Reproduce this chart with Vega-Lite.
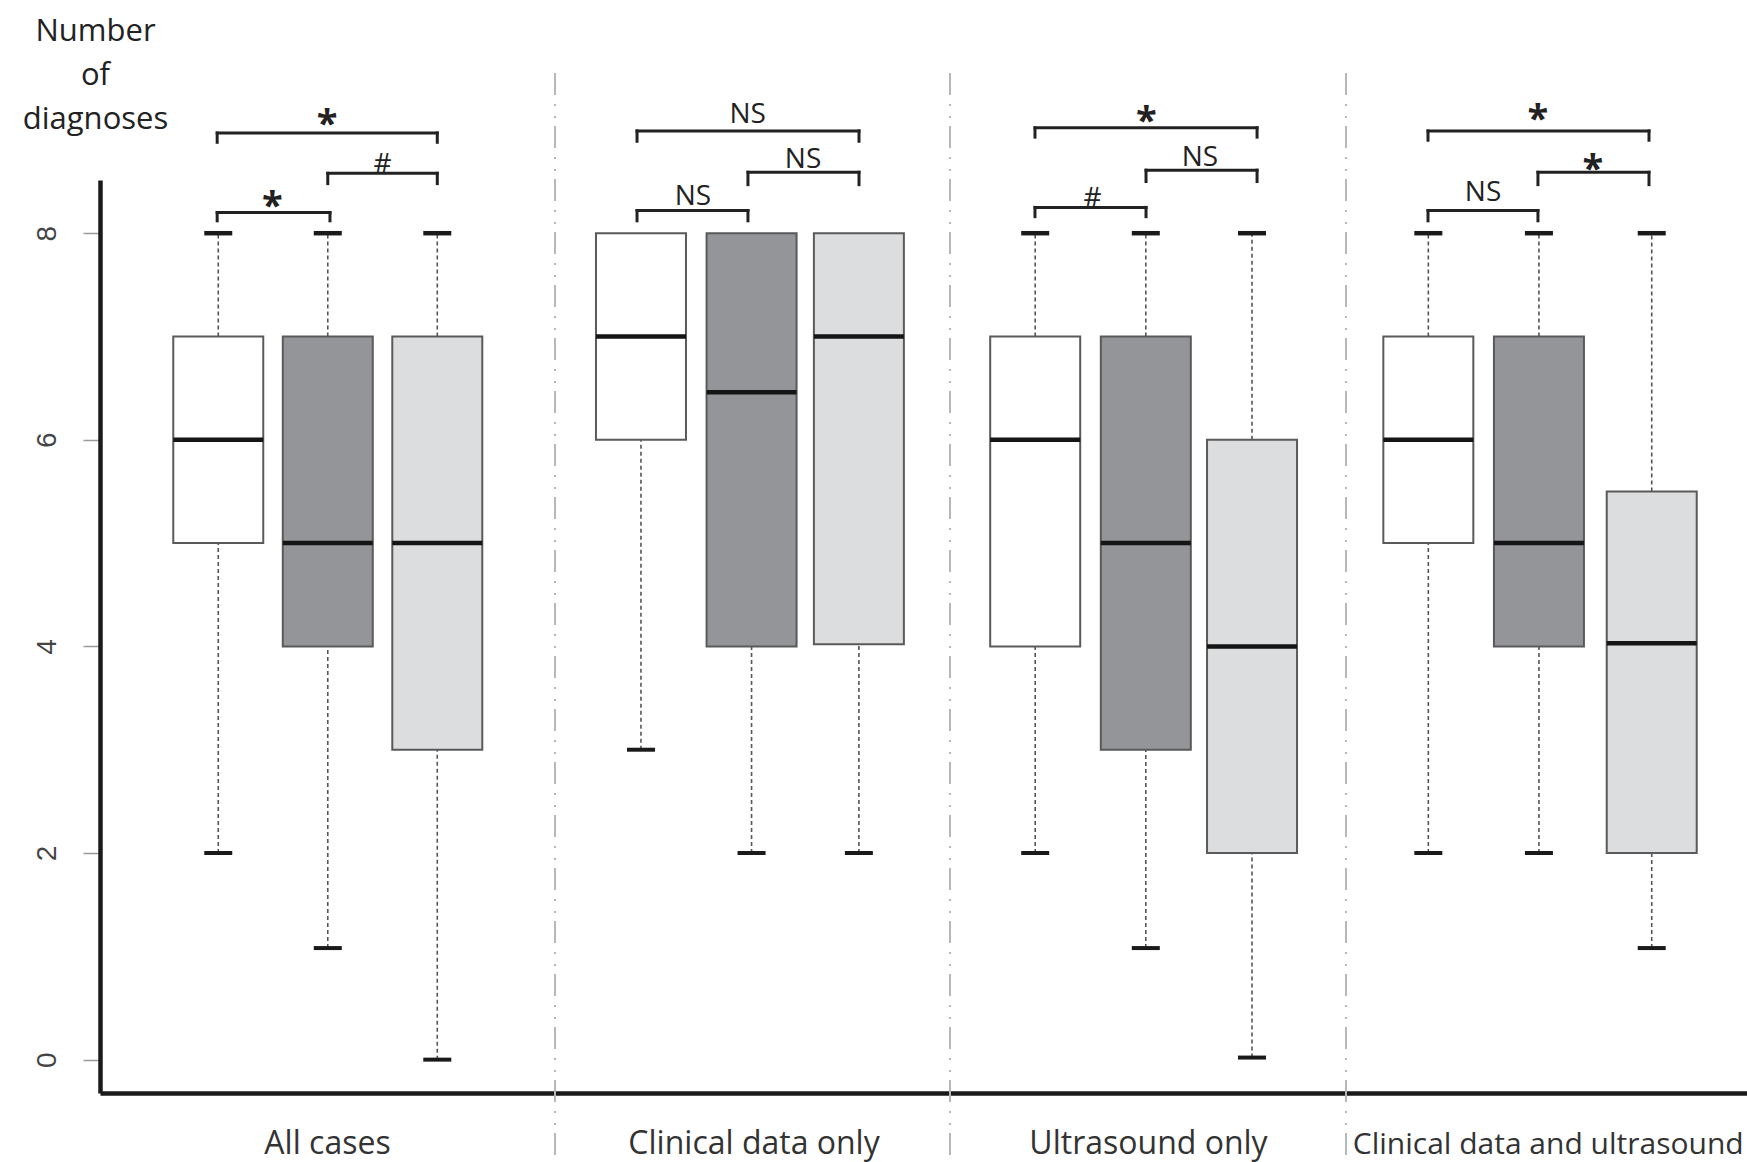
{
  "$schema": "https://vega.github.io/schema/vega-lite/v6.json",
  "autosize": {"type": "none"},
  "padding": {"left": 100, "top": 180, "right": 0, "bottom": 69},
  "width": 1647,
  "height": 913,
  "background": "#ffffff",
  "config": {"view": {"stroke": null}},
  "datasets": {
    "boxes": [
      {"grp": "All cases", "method": "M1", "pos": 1.0, "lo": 2, "q1": 5, "med": 6, "q3": 7, "hi": 8},
      {"grp": "All cases", "method": "M2", "pos": 2.0, "lo": 1.08, "q1": 4, "med": 5, "q3": 7, "hi": 8},
      {"grp": "All cases", "method": "M3", "pos": 3.0, "lo": 0, "q1": 3, "med": 5, "q3": 7, "hi": 8},
      {"grp": "Clinical data only", "method": "M1", "pos": 4.86, "lo": 3, "q1": 6, "med": 7, "q3": 8, "hi": 8},
      {"grp": "Clinical data only", "method": "M2", "pos": 5.87, "lo": 2, "q1": 4, "med": 6.46, "q3": 8, "hi": 8},
      {"grp": "Clinical data only", "method": "M3", "pos": 6.85, "lo": 2, "q1": 4.02, "med": 7, "q3": 8, "hi": 8},
      {"grp": "Ultrasound only", "method": "M1", "pos": 8.46, "lo": 2, "q1": 4, "med": 6, "q3": 7, "hi": 8},
      {"grp": "Ultrasound only", "method": "M2", "pos": 9.47, "lo": 1.08, "q1": 3, "med": 5, "q3": 7, "hi": 8},
      {"grp": "Ultrasound only", "method": "M3", "pos": 10.44, "lo": 0.02, "q1": 2, "med": 4.0, "q3": 6, "hi": 8},
      {"grp": "Clinical data and ultrasound", "method": "M1", "pos": 12.05, "lo": 2, "q1": 5, "med": 6, "q3": 7, "hi": 8},
      {"grp": "Clinical data and ultrasound", "method": "M2", "pos": 13.06, "lo": 2, "q1": 4, "med": 5, "q3": 7, "hi": 8},
      {"grp": "Clinical data and ultrasound", "method": "M3", "pos": 14.09, "lo": 1.08, "q1": 2, "med": 4.03, "q3": 5.5, "hi": 8}
    ],
    "seps": [
      {"pos": 4.075},
      {"pos": 7.682},
      {"pos": 11.298}
    ],
    "brackets": [
      {"grp": "All cases", "x1": 0.99, "x2": 3.0, "y": 8.97, "yb": 8.88, "label": "*", "tx": 1.993, "ty": 9.144},
      {"grp": "All cases", "x1": 2.0, "x2": 3.0, "y": 8.58, "yb": 8.48, "label": "#", "tx": 2.5, "ty": 8.68},
      {"grp": "All cases", "x1": 0.99, "x2": 2.02, "y": 8.2, "yb": 8.12, "label": "*", "tx": 1.495, "ty": 8.346},
      {"grp": "Clinical data only", "x1": 4.824, "x2": 6.851, "y": 8.99, "yb": 8.89, "label": "NS", "tx": 5.834, "ty": 9.168},
      {"grp": "Clinical data only", "x1": 5.837, "x2": 6.851, "y": 8.59, "yb": 8.47, "label": "NS", "tx": 6.34, "ty": 8.728},
      {"grp": "Clinical data only", "x1": 4.824, "x2": 5.837, "y": 8.22, "yb": 8.12, "label": "NS", "tx": 5.335, "ty": 8.365},
      {"grp": "Ultrasound only", "x1": 8.458, "x2": 10.486, "y": 9.02, "yb": 8.93, "label": "*", "tx": 9.476, "ty": 9.173},
      {"grp": "Ultrasound only", "x1": 9.472, "x2": 10.486, "y": 8.61, "yb": 8.5, "label": "NS", "tx": 9.965, "ty": 8.747},
      {"grp": "Ultrasound only", "x1": 8.458, "x2": 9.472, "y": 8.25, "yb": 8.16, "label": "#", "tx": 8.983, "ty": 8.35},
      {"grp": "Clinical data and ultrasound", "x1": 12.047, "x2": 14.065, "y": 8.99, "yb": 8.9, "label": "*", "tx": 13.05, "ty": 9.19},
      {"grp": "Clinical data and ultrasound", "x1": 13.051, "x2": 14.065, "y": 8.59, "yb": 8.47, "label": "*", "tx": 13.553, "ty": 8.71},
      {"grp": "Clinical data and ultrasound", "x1": 12.047, "x2": 13.051, "y": 8.22, "yb": 8.12, "label": "NS", "tx": 12.55, "ty": 8.41}
    ]
  },
  "layer": [
    {
      "data": {"name": "seps"},
      "mark": {"type": "rule", "color": "#b4b7bb", "strokeWidth": 2, "strokeDash": [22, 9, 2, 10, 2, 8]},
      "encoding": {
        "x": {"field": "pos", "type": "quantitative"},
        "y": {"datum": 9.55, "type": "quantitative"},
        "y2": {"datum": -1.05}
      }
    },
    {
      "data": {"name": "boxes"},
      "mark": {"type": "rule", "color": "#555555", "strokeWidth": 1.6, "strokeDash": [4, 3]},
      "encoding": {
        "x": {"field": "pos", "type": "quantitative"},
        "y": {"field": "lo", "type": "quantitative"},
        "y2": {"field": "q1"}
      }
    },
    {
      "data": {"name": "boxes"},
      "mark": {"type": "rule", "color": "#555555", "strokeWidth": 1.6, "strokeDash": [4, 3]},
      "encoding": {
        "x": {"field": "pos", "type": "quantitative"},
        "y": {"field": "q3", "type": "quantitative"},
        "y2": {"field": "hi"}
      }
    },
    {
      "data": {"name": "boxes"},
      "mark": {"type": "bar", "size": 90, "stroke": "#5a5a5a", "strokeWidth": 2},
      "encoding": {
        "x": {
          "field": "pos",
          "type": "quantitative",
          "scale": {"domain": [-0.08, 14.96], "nice": false, "zero": false, "padding": 0},
          "axis": {
            "title": null,
            "values": [1.993, 5.888, 9.49, 13.14],
            "labelExpr": "datum.value < 4 ? 'All cases' : datum.value < 7.5 ? 'Clinical data only' : datum.value < 11 ? 'Ultrasound only' : 'Clinical data and ultrasound'",
            "ticks": false,
            "tickSize": 0,
            "grid": false,
            "domainColor": "#1a1a1a",
            "domainWidth": 4.5,
            "labelFont": "Open Sans",
            "labelFontSize": {"condition": {"test": "datum.value > 11", "value": 30}, "value": 32},
            "labelColor": "#333333",
            "labelBaseline": "alphabetic",
            "labelPadding": 60,
            "labelLimit": 0,
            "labelOverlap": false,
            "labelFlush": false,
            "labelBound": false
          }
        },
        "y": {
          "field": "q1",
          "type": "quantitative",
          "scale": {"domain": [-0.323, 8.515], "nice": false, "zero": false, "padding": 0},
          "axis": {
            "title": ["Number", "of", "diagnoses"],
            "titleAngle": 0,
            "titleAlign": "center",
            "titleBaseline": "top",
            "titleX": -5,
            "titleY": -164,
            "titleFont": "Open Sans",
            "titleFontSize": 31,
            "titleFontWeight": "normal",
            "titleLineHeight": 44,
            "titleColor": "#222222",
            "values": [0, 2, 4, 6, 8],
            "format": "d",
            "grid": false,
            "tickSize": 17,
            "tickColor": "#999999",
            "tickWidth": 1.5,
            "domainColor": "#1a1a1a",
            "domainWidth": 4.5,
            "labelAngle": 270,
            "labelAlign": "center",
            "labelBaseline": "middle",
            "labelFont": "Liberation Sans",
            "labelFontSize": 28,
            "labelColor": "#444444",
            "labelPadding": 36
          }
        },
        "y2": {"field": "q3"},
        "fill": {
          "field": "method",
          "type": "nominal",
          "scale": {"domain": ["M1", "M2", "M3"], "range": ["#ffffff", "#939598", "#dcddde"]},
          "legend": null
        }
      }
    },
    {
      "data": {"name": "boxes"},
      "mark": {"type": "tick", "orient": "horizontal", "size": 90, "thickness": 4.5, "color": "#151515", "opacity": 1},
      "encoding": {
        "x": {"field": "pos", "type": "quantitative"},
        "y": {"field": "med", "type": "quantitative"}
      }
    },
    {
      "data": {"name": "boxes"},
      "mark": {"type": "tick", "orient": "horizontal", "size": 28, "thickness": 4, "color": "#1a1a1a", "opacity": 1},
      "encoding": {
        "x": {"field": "pos", "type": "quantitative"},
        "y": {"field": "lo", "type": "quantitative"}
      }
    },
    {
      "data": {"name": "boxes"},
      "transform": [{"filter": "datum.hi > datum.q3"}],
      "mark": {"type": "tick", "orient": "horizontal", "size": 28, "thickness": 4.5, "color": "#1a1a1a", "opacity": 1},
      "encoding": {
        "x": {"field": "pos", "type": "quantitative"},
        "y": {"field": "hi", "type": "quantitative"}
      }
    },
    {
      "data": {"name": "brackets"},
      "mark": {"type": "rule", "color": "#222222", "strokeWidth": 3, "strokeCap": "square"},
      "encoding": {
        "x": {"field": "x1", "type": "quantitative"},
        "x2": {"field": "x2"},
        "y": {"field": "y", "type": "quantitative"}
      }
    },
    {
      "data": {"name": "brackets"},
      "mark": {"type": "rule", "color": "#222222", "strokeWidth": 3, "strokeCap": "square"},
      "encoding": {
        "x": {"field": "x1", "type": "quantitative"},
        "y": {"field": "y", "type": "quantitative"},
        "y2": {"field": "yb"}
      }
    },
    {
      "data": {"name": "brackets"},
      "mark": {"type": "rule", "color": "#222222", "strokeWidth": 3, "strokeCap": "square"},
      "encoding": {
        "x": {"field": "x2", "type": "quantitative"},
        "y": {"field": "y", "type": "quantitative"},
        "y2": {"field": "yb"}
      }
    },
    {
      "data": {"name": "brackets"},
      "transform": [{"filter": "datum.label === '*'"}],
      "mark": {"type": "text", "font": "Open Sans", "fontSize": 38, "fontWeight": "bold", "color": "#222222", "align": "center", "baseline": "middle", "dy": 11},
      "encoding": {
        "x": {"field": "tx", "type": "quantitative"},
        "y": {"field": "ty", "type": "quantitative"},
        "text": {"field": "label"}
      }
    },
    {
      "data": {"name": "brackets"},
      "transform": [{"filter": "datum.label !== '*'"}],
      "mark": {"type": "text", "font": "Open Sans", "fontSize": 28, "color": "#222222", "align": "center", "baseline": "middle", "dy": 2},
      "encoding": {
        "x": {"field": "tx", "type": "quantitative"},
        "y": {"field": "ty", "type": "quantitative"},
        "text": {"field": "label"}
      }
    }
  ]
}
